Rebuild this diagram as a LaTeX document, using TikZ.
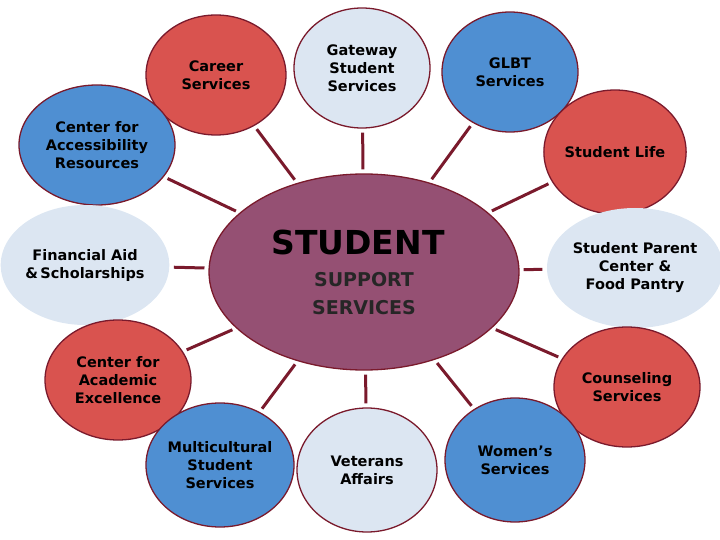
\documentclass[tikz,border=0pt]{standalone}
\usepackage{fontspec}
\setmainfont{DejaVu Sans}
\usetikzlibrary{shapes.geometric}
\definecolor{rd}{HTML}{D9534F}
\definecolor{bl}{HTML}{4F8FD2}
\definecolor{lb}{HTML}{DCE6F2}
\definecolor{pu}{HTML}{955073}
\definecolor{bd}{HTML}{7A1A2C}
\tikzset{
 bub/.style={ellipse,draw=bd,line width=1.3pt,inner sep=0pt,align=center,font=\fontsize{14.5}{18}\selectfont\bfseries},
 spoke/.style={draw=bd,line width=3pt,shorten >=4pt,shorten <=4pt}
}
\begin{document}
\begin{tikzpicture}[x=1pt,y=-1pt]
\useasboundingbox (0,0) rectangle (720,540);
\node[bub,fill=pu,minimum width=310,minimum height=196] (c) at (364,272) {};
\node[font=\fontsize{33}{38}\selectfont\bfseries] at (358,242) {STUDENT};
\node[font=\fontsize{19}{28}\selectfont\bfseries,text=black!85,align=center] at (364,294) {SUPPORT\\SERVICES};
\node[bub,fill=rd,minimum width=140,minimum height=120] (a1) at (216,75) {Career\\Services};
\node[bub,fill=lb,minimum width=136,minimum height=120] (a2) at (362,68) {Gateway\\Student\\Services};
\node[bub,fill=bl,minimum width=136,minimum height=120] (a3) at (510,72) {GLBT\\Services};
\node[bub,fill=bl,minimum width=156,minimum height=120] (a4) at (97,145) {Center for\\Accessibility\\Resources};
\node[bub,fill=rd,minimum width=140,minimum height=124] (a5) at (615,152) {Student Life};
\node[bub,fill=lb,draw=none,minimum width=150,minimum height=120] (a6) at (85,265) {Financial Aid\\\&\,Scholarships};
\node[bub,fill=lb,draw=none,minimum width=150,minimum height=120] (a7) at (635,268) {Student Parent\\Center \&\\Food Pantry};
\node[bub,fill=rd,minimum width=146,minimum height=120] (a8) at (118,380) {Center for\\Academic\\Excellence};
\node[bub,fill=rd,minimum width=146,minimum height=120] (a9) at (627,387) {Counseling\\Services};
\node[bub,fill=bl,minimum width=136,minimum height=124] (a10) at (220,465) {Multicultural\\Student\\Services};
\node[bub,fill=lb,minimum width=140,minimum height=124] (a11) at (367,470) {Veterans\\Affairs};
\node[bub,fill=bl,minimum width=140,minimum height=124] (a12) at (515,460) {Women’s\\Services};
\foreach \n in {a1,a2,a3,a4,a5,a6,a7,a8,a9,a10,a11,a12}
  \path[spoke] (\n) -- (c);
\end{tikzpicture}
\end{document}
